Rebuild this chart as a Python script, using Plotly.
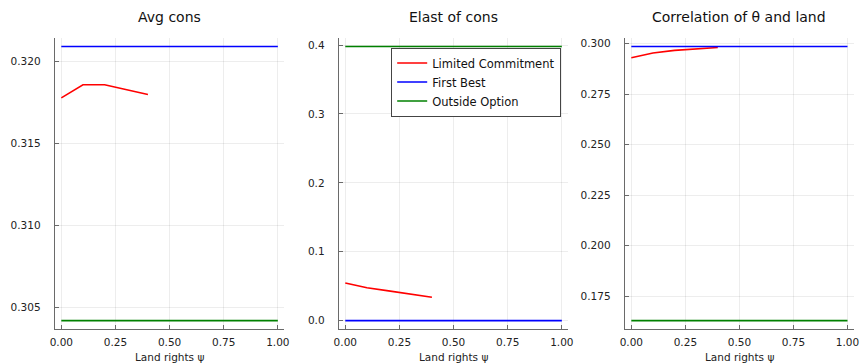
import plotly.graph_objects as go

# ---- data ----
psi_lc = [0.0, 0.1, 0.2, 0.3, 0.4]
psi_full = [0.0, 1.0]

avg_lc = [0.3178, 0.3186, 0.3186, 0.3183, 0.3180]
avg_fb = [0.32093, 0.32093]
avg_oo = [0.30421, 0.30421]

elast_lc = [0.0546, 0.0476, 0.0431, 0.0385, 0.0338]
elast_fb = [0.0, 0.0]
elast_oo = [0.398, 0.398]

corr_lc = [0.2930, 0.2953, 0.2966, 0.2974, 0.2980]
corr_fb = [0.29852, 0.29852]
corr_oo = [0.16302, 0.16302]

titles = ["Avg cons", "Elast of cons", "Correlation of θ and land"]
series_names = ["Limited Commitment", "First Best", "Outside Option"]
colors = ["#FF0000", "#0000FF", "#008000"]
x_ticks = [0, 0.25, 0.5, 0.75, 1.0]
y_ticks = [
    [0.305, 0.310, 0.315, 0.320],
    [0.0, 0.1, 0.2, 0.3, 0.4],
    [0.175, 0.200, 0.225, 0.250, 0.275, 0.300],
]
y_formats = [".3f", ".1f", ".3f"]

panels = [
    (avg_lc, avg_fb, avg_oo),
    (elast_lc, elast_fb, elast_oo),
    (corr_lc, corr_fb, corr_oo),
]

W, H = 865, 363
x_domains_px = [(50.4, 282.6), (337.7, 569.9), (627.1, 858.9)]
y_top_px, y_bot_px = 37.4, 328.7
y_domain = [1 - y_bot_px / H, 1 - y_top_px / H]

FONT = "DejaVu Sans"
AXIS_COL = "#6a6a6a"
GRID_COL = "rgba(0,0,0,0.07)"

fig = go.Figure()
annotations = []

for i, (lc, fb, oo) in enumerate(panels):
    ax = "" if i == 0 else str(i + 1)
    xref, yref = "x" + ax, "y" + ax
    for name, col, xs, ys in zip(series_names, colors,
                                 [psi_lc, psi_full, psi_full], [lc, fb, oo]):
        fig.add_trace(go.Scatter(
            x=xs, y=ys, mode="lines", name=name,
            line=dict(color=col, width=1.6),
            xaxis=xref, yaxis=yref,
            showlegend=(i == 1), legendgroup=name,
        ))
    allv = list(lc) + list(fb) + list(oo)
    lo, hi = min(allv), max(allv)
    pad = 0.03 * (hi - lo)
    d0 = x_domains_px[i][0] / W
    d1 = x_domains_px[i][1] / W
    common = dict(
        showline=True, linecolor=AXIS_COL, linewidth=1.2,
        ticks="inside", ticklen=4, tickcolor=AXIS_COL, tickwidth=1,
        showgrid=True, gridcolor=GRID_COL, gridwidth=1,
        zeroline=False, mirror=False,
        tickfont=dict(family=FONT, size=10.5, color="#222"),
        fixedrange=True,
    )
    fig.update_layout(**{
        "xaxis" + ax: dict(
            domain=[d0, d1], range=[-0.03, 1.03], anchor=yref,
            tickvals=x_ticks, tickformat=".2f", ticklabelstandoff=4, **common),
        "yaxis" + ax: dict(
            domain=y_domain, range=[lo - pad, hi + pad], anchor=xref,
            tickvals=y_ticks[i], tickformat=y_formats[i], ticklabelstandoff=11, **common),
    })
    cx = (d0 + d1) / 2
    annotations.append(dict(
        text=titles[i], x=cx, y=1 - 16.5 / H, xref="paper", yref="paper",
        xanchor="center", yanchor="middle", showarrow=False,
        font=dict(family=FONT, size=14, color="#111")))
    annotations.append(dict(
        text="Land rights ψ", x=cx, y=1 - 356.5 / H, xref="paper", yref="paper",
        xanchor="center", yanchor="middle", showarrow=False,
        font=dict(family=FONT, size=10.5, color="#222")))

fig.update_layout(
    width=W, height=H,
    margin=dict(l=0, r=0, t=0, b=0),
    paper_bgcolor="white", plot_bgcolor="white",
    annotations=annotations,
    showlegend=True,
    legend=dict(
        x=562.7 / W, y=1 - 46.7 / H, xanchor="right", yanchor="top",
        bgcolor="white", bordercolor="#444", borderwidth=1,
        font=dict(family=FONT, size=11.5, color="#111"),
        itemwidth=30, tracegroupgap=0,
    ),
)

fig.write_html("out.html")
